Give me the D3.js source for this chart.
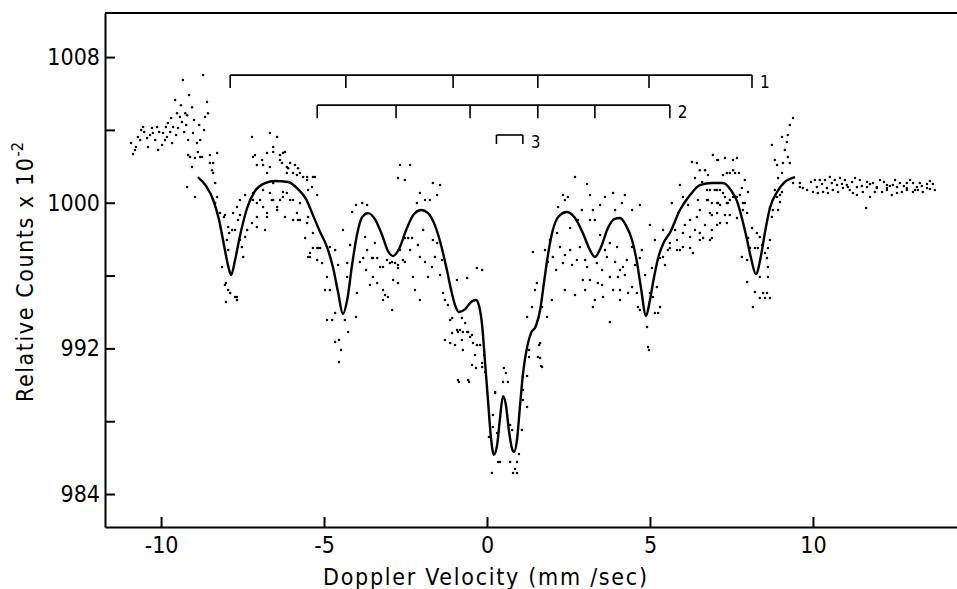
<!DOCTYPE html>
<html>
<head>
<meta charset="utf-8">
<script src="https://cdn.jsdelivr.net/npm/d3@7"></script>
<style>
  body { margin: 0; background: #fff; }
  svg { display: block; }
  .tick text, .lbl { font-family: "DejaVu Sans Condensed", "DejaVu Sans", sans-serif; fill: #000; }
</style>
</head>
<body>
<div class="container"></div>
<script>
// tick values
let xTicks = [-10, -5, 0, 5, 10];
let yTicks = [984, 988, 992, 996, 1000, 1004, 1008];
let yLabelled = [984, 992, 1000, 1008];

// stick diagrams (mm/sec)
let sticks1 = [-7.88, -4.33, -1.04, 1.56, 4.97, 8.13];
let sticks2 = [-5.21, -2.79, -0.52, 1.56, 3.31, 5.61];
let sticks3 = [0.29, 1.10];
let stickLevels = [1007.01, 1005.36, 1003.72];

// fitted curve
let fitV = [-8.87,-8.62,-8.40,-8.22,-8.07,-7.94,-7.85,-7.73,-7.58,-7.36,-7.12,-6.81,-6.50,-6.10,-5.80,-5.55,-5.34,-5.12,-4.91,-4.72,-4.57,-4.42,-4.29,-4.14,-3.99,-3.83,-3.65,-3.44,-3.22,-3.04,-2.88,-2.70,-2.48,-2.24,-2.02,-1.81,-1.60,-1.41,-1.23,-1.10,-0.98,-0.86,-0.67,-0.49,-0.34,-0.25,-0.15,-0.06,0.03,0.12,0.21,0.31,0.40,0.49,0.58,0.67,0.77,0.83,0.92,1.01,1.10,1.23,1.35,1.50,1.63,1.75,1.87,2.02,2.21,2.45,2.70,2.94,3.16,3.31,3.50,3.71,3.90,4.08,4.26,4.45,4.60,4.72,4.88,5.00,5.12,5.25,5.43,5.61,5.92,6.23,6.53,6.90,7.24,7.48,7.67,7.82,7.98,8.10,8.25,8.41,8.53,8.68,8.90,9.14,9.45];
let fitC = [1001.41,1000.92,1000.15,999.05,997.68,996.52,996.03,996.85,998.17,999.71,1000.64,1001.08,1001.19,1001.14,1000.75,1000.20,999.32,998.39,997.57,996.41,995.09,993.89,994.66,996.58,998.23,999.21,999.43,999.10,998.23,997.35,997.07,997.46,998.50,999.38,999.60,999.43,998.77,997.68,996.30,995.20,994.38,994.00,994.16,994.55,994.66,994.38,993.28,991.25,989.16,987.13,986.15,986.69,988.18,989.38,988.89,987.52,986.48,986.31,986.97,988.78,990.54,992.07,992.84,993.23,994.11,995.64,997.13,998.50,999.27,999.49,999.16,998.34,997.40,997.02,997.57,998.61,999.10,999.16,998.77,997.95,996.74,995.37,993.78,994.66,995.86,996.96,997.84,998.34,999.60,1000.42,1000.97,1001.08,1001.08,1000.70,1000.09,999.16,997.95,996.96,996.08,997.13,998.39,999.71,1000.59,1001.14,1001.41];

// measured points [velocity, counts]
let dotsWing = [[-10.92,1003.28],[-10.86,1002.67],[-10.77,1003.06],[-10.71,1003.61],[-10.64,1003.44],[-10.55,1004.16],[-10.52,1003.88],[-10.43,1003.55],[-10.40,1003.06],[-10.28,1004.10],[-10.25,1003.83],[-10.18,1003.44],[-10.12,1004.16],[-10.06,1003.88],[-9.97,1003.17],[-9.94,1003.83],[-9.85,1004.16],[-9.82,1003.61],[-9.79,1004.38],[-9.72,1003.88],[-9.66,1003.28],[-9.63,1004.16],[-9.57,1005.64],[-9.51,1004.92],[-9.48,1004.10],[-9.42,1004.71],[-9.36,1004.43],[-9.33,1006.74],[-9.29,1003.88],[-9.20,1004.81],[-9.17,1003.44],[-9.14,1005.91],[-9.11,1002.51],[-9.05,1001.96],[-9.02,1003.83],[-8.96,1000.31],[-8.90,1003.28],[-8.80,1003.44],[-8.74,1002.51],[-8.71,1007.01],[-8.65,1004.71],[-8.59,1005.53],[-8.56,1004.92],[-8.50,1002.18],[-8.40,1001.63],[-8.34,1001.08],[-9.20,1000.86],[-8.87,1002.78],[-9.05,1005.25],[-9.26,1004.92],[-10.80,1002.89],[-10.61,1003.99],[-10.34,1003.72],[-10.09,1002.89],[-9.88,1003.44],[-9.69,1004.65],[-9.54,1003.72],[-9.39,1005.36],[-9.23,1004.27],[-8.99,1004.54],[-8.83,1004.27],[-8.68,1003.99],
  [-9.17,1002.62],[-8.96,1002.45],[-8.80,1002.51],[-8.50,1002.62],[-8.40,1002.18],[-8.44,1001.79],[-8.28,1002.73]];

let dotsLeft = [[-8.28,1000.31],[-8.19,999.43],[-8.07,999.21],[-7.94,998.66],[-7.91,998.34],[-7.79,999.43],[-7.73,998.50],[-7.67,999.76],[-7.64,999.05],[-7.58,1000.15],[-7.52,997.57],[-7.42,998.12],[-8.13,996.47],[-8.01,995.59],[-7.88,995.04],[-7.73,994.82],[-7.48,997.02],[-7.27,1000.15],[-7.18,1000.53],[-7.06,999.98],[-6.96,1000.15],[-6.81,998.50],[-6.75,999.43],[-6.60,1000.15],[-6.44,999.76],[-6.26,1000.31],[-6.04,1000.15],[-5.83,999.43],[-5.74,999.05],[-5.52,998.88],[-5.34,998.34],[-5.43,997.24],[-5.21,996.85],[-7.21,1003.61],[-7.18,1002.51],[-7.06,1002.07],[-6.90,1002.34],[-6.75,1002.73],[-6.66,1003.83],[-6.56,1003.06],[-6.44,1003.61],[-6.35,1002.34],[-6.26,1002.73],[-6.14,1001.96],[-6.04,1002.18],[-5.95,1001.63],[-5.80,1001.90],[-5.64,1001.41],[-5.52,1001.25],[-5.37,1000.86],[-5.28,1001.41],[-6.75,1001.63],[-6.56,1001.08],[-6.26,1000.59],[-7.67,994.82],[-8.01,994.55],[-7.94,995.20],
  [-7.12,1002.62],[-6.87,1002.07],[-6.56,1002.78],[-6.35,1002.62],[-6.20,1002.78],[-6.66,1001.96],[-6.29,1002.18],[-6.10,1001.90],[-5.89,1002.07],[-6.14,1001.63],[-5.74,1001.63],[-5.52,1001.41],[-5.34,1001.41],[-5.21,1000.42],[-5.49,1000.70],[-5.83,1001.52],
  [-7.42,1000.42],[-7.18,1000.15],[-6.87,1000.70],[-6.66,1000.53],[-6.56,1000.15],[-6.35,1000.15],[-6.14,1000.53],[-5.95,1000.15],[-5.74,999.98],[-6.87,999.76],[-6.44,999.60],[-7.06,999.21],[-6.75,999.21],[-6.20,999.21],[-5.95,999.05],[-5.80,999.05],[-5.49,999.21],[-7.21,998.88],[-7.06,998.66],
  [-8.34,999.98],[-8.28,999.43],[-8.04,999.32],[-7.98,997.95],[-7.82,998.50],[-7.58,999.32],[-8.04,995.48],[-7.67,994.66],[-7.94,997.40],[-7.58,997.95],[-7.36,998.50]];

let dotsMid = [[-5.58,998.06],[-5.43,997.02],[-5.21,997.51],[-5.12,997.51],[-5.06,996.69],[-4.91,995.92],[-4.97,995.20],[-4.82,995.20],[-4.91,993.56],[-4.75,993.56],[-4.66,993.94],[-4.66,992.35],[-4.54,992.46],[-4.54,991.25],[-4.48,991.91],[-4.57,996.58],[-4.29,995.92],[-4.36,993.56],[-4.26,992.90],[-3.99,995.04],[-4.02,993.72],[-4.14,999.49],[-3.83,999.98],[-3.68,999.87],[-3.74,998.12],[-3.80,996.96],[-3.68,997.40],[-3.53,996.96],[-3.44,997.79],[-3.37,996.96],[-3.50,995.92],[-3.37,995.59],[-3.28,996.47],[-3.19,995.20],[-3.19,994.66],[-3.04,994.82],[-2.88,995.75],[-2.91,994.11],[-3.07,996.85],[-2.98,996.69],[-2.82,996.69],[-2.73,996.41],[-2.67,997.40],[-2.58,996.85],[-2.52,998.06],[-2.42,998.06],[-2.30,998.06],[-2.27,995.92],[-2.06,997.02],[-1.96,998.50],[-1.81,995.92],[-1.69,996.47],[-1.66,997.95],[-1.60,997.02],[-1.75,1000.15],[-2.06,1000.53],[-2.15,999.98],[-2.36,1002.07],[-2.67,1002.07],[-2.73,1001.36],[-1.44,1000.97],[-1.66,1001.08],[-1.53,997.79],[-1.38,996.85],[-1.35,995.04],[-1.20,994.38],[-1.07,993.67],[-0.92,993.01],[-0.77,993.67],[-0.67,993.39],[-0.61,992.90],[-0.52,992.62],[-0.43,992.29],[-0.89,990.26],[-0.58,990.26],[-0.92,995.75],[-0.61,995.86],[-0.31,996.41],[-0.15,996.30],[-1.13,992.29],[-5.34,997.51],[-5.18,997.51],[-5.49,997.02],
  [-4.82,997.57],[-4.29,996.69],[-3.50,996.96],[-3.19,996.47],[-2.91,996.74],[-2.73,996.58],[-2.52,996.74],[-2.36,997.40],[-2.12,997.68],[-1.90,996.74],[-3.90,996.74],[-3.71,996.30],[-3.59,995.48],[-3.13,994.93],[-2.73,995.59],[-2.21,995.20],[-2.06,994.66],[-1.29,994.66],[-1.44,996.03],[-1.13,993.56],[-0.83,993.01],[-0.98,992.18],[-1.29,992.46],[-0.74,991.91],[-0.37,991.64],[-1.75,999.32],[-1.53,1000.42],[-2.52,1001.25],[-1.90,1000.15],[-4.02,999.87],[-4.42,998.50],[-4.20,997.68],[-4.66,997.40]];

let dotsCentre = [[-0.15,991.20],[0.25,989.55],[-1.07,992.84],[-0.89,992.90],[-0.74,992.90],[-0.58,992.90],[-0.77,992.46],[-0.46,992.73],[-0.31,992.18],[-0.21,992.18],[-0.46,991.09],[-0.34,990.92],[-0.15,990.98],[-0.86,990.15],[-0.55,990.15],[-0.09,991.64],[-0.06,990.70],[0.00,989.88],[0.25,989.60],[0.18,988.34],[0.06,987.13],[0.18,987.68],[0.31,987.35],[0.34,985.76],[0.40,985.76],[0.15,985.16],[0.52,990.92],[0.58,990.65],[0.49,990.15],[0.64,990.15],[0.71,987.79],[0.77,987.52],[0.92,986.97],[0.71,985.76],[0.92,985.76],[0.86,985.38],[0.80,985.16],[0.92,985.16],[0.98,986.20],[1.07,987.52],[1.10,989.16],[1.23,988.78],[1.10,990.43],[1.23,990.48],[1.10,989.71],[1.29,991.91],[1.29,991.53],[1.60,992.18],[1.63,991.47],[1.66,991.03]];

let dotsRight = [[1.41,997.29],[1.47,995.20],[1.53,995.59],[1.38,994.27],[1.23,993.72],[1.69,994.27],[1.84,993.72],[1.63,992.29],[1.56,991.53],[1.69,990.98],[1.93,997.95],[2.15,998.34],[2.18,999.76],[2.39,1000.15],[2.48,1000.31],[2.70,1001.41],[3.07,1001.03],[2.24,997.57],[2.02,997.02],[2.33,996.69],[2.55,997.40],[2.76,996.85],[2.91,999.60],[3.16,999.05],[3.31,999.05],[3.25,999.60],[3.62,1000.31],[3.87,1000.53],[3.93,999.60],[4.14,999.98],[4.45,999.60],[3.07,996.47],[2.94,995.75],[3.16,995.75],[3.37,996.69],[3.53,996.30],[3.68,997.02],[3.77,997.79],[3.99,997.57],[4.08,996.30],[4.17,996.47],[4.29,996.85],[4.45,997.57],[3.77,995.92],[4.02,995.92],[3.87,995.20],[3.53,995.48],[3.25,994.27],[3.56,994.82],[2.70,994.93],[3.77,993.45],[4.33,995.04],[4.45,995.37],[4.60,995.04],[4.63,994.27],[4.69,996.96],[4.75,997.40],[5.00,995.04],[5.09,994.82],[5.21,995.37],[5.15,993.94],[5.25,993.94],[5.31,994.27],[4.91,993.17],[4.94,992.07],[4.97,991.91],[5.40,997.02],[5.40,998.50],[5.61,997.79],[5.83,997.95],[5.67,999.98],[5.86,999.43],[5.92,1000.97],[6.01,1000.31],[6.23,999.05],[6.44,999.21],[6.53,999.60],[6.75,1000.15],[6.84,1000.70],[7.06,1000.70],[7.24,1000.53],[7.36,999.98],[7.55,1000.31],[7.76,1000.42],[7.85,999.98],[7.98,999.43],[7.06,999.98],[6.84,999.43],[7.15,998.88],[7.36,998.88],[6.01,998.34],[6.23,998.12],[6.53,997.95],[6.84,997.95],[5.92,997.40],[6.01,997.57],[5.83,997.40],[6.32,997.24],[6.23,997.51],[5.61,997.51],[5.31,996.96],[6.44,1002.18],[6.29,1002.23],[6.69,1001.79],[6.93,1002.62],[7.06,1002.34],[7.30,1002.45],[7.67,1002.45],[7.36,1001.63],[7.61,1001.63],[6.78,1001.52],
  [1.78,997.40],[1.87,996.74],[2.12,996.30],[2.39,997.13],[2.61,996.58],[2.85,997.57],[3.01,996.85],[2.55,998.61],[2.79,999.05],[3.47,998.23],[3.62,997.40],[3.93,996.74],[4.23,996.03],[4.54,996.58],[3.40,995.59],[4.08,995.20],[4.85,996.03],[5.06,996.41],[5.46,996.58],[5.55,997.40],[5.77,998.50],[6.07,998.77],[6.38,998.50],[6.69,998.77],[6.17,999.87],[6.47,1000.15],[6.90,999.32],[7.15,999.87],[7.45,1000.15],[6.38,1001.36],[6.60,1001.14],[7.24,1001.52],[7.91,1001.25],[8.01,1000.59],[2.33,1000.42],[3.16,1000.42],[3.47,999.87],[4.23,1000.42],[4.69,999.87],[5.00,998.77],[5.15,997.95],[4.08,994.66],[4.69,994.11],[3.31,994.66],[3.01,995.20],[2.39,995.20],[1.99,994.66]];

let dotsOuter = [[6.53,1001.79],[7.09,1002.34],[7.45,1001.63],[7.55,1002.34],[7.55,1001.79],[7.73,1001.63],[6.75,1000.70],[6.99,1000.70],[7.15,1000.70],[7.82,1000.81],[6.78,1000.15],[6.90,999.98],[7.09,999.98],[7.30,1000.31],[7.39,999.98],[7.67,1000.31],[7.91,999.98],[7.06,999.43],[7.30,999.32],[7.45,999.32],[7.67,999.16],[7.85,999.60],[6.53,998.34],[6.63,998.06],[6.90,998.06],[6.90,998.50],[7.06,998.77],[8.01,998.06],[8.28,998.34],[8.37,998.12],[8.44,997.68],[8.13,998.61],[7.82,997.02],[7.98,996.85],[8.07,997.51],[8.22,997.51],[8.31,997.51],[8.53,997.24],[8.62,997.51],[8.59,996.96],[8.62,996.47],[8.62,995.92],[8.37,995.92],[7.98,995.64],[8.22,995.09],[8.47,995.04],[8.59,995.04],[8.37,994.77],[8.53,994.77],[8.68,994.77],[8.16,994.27],[8.68,997.95],[8.74,999.21],[8.77,999.60],[8.93,999.60],[8.68,999.71],[8.90,1000.31],[8.99,1000.42],[9.05,1000.59],[8.99,1000.04],[8.83,1000.70],[8.93,1001.36],[9.05,1001.63],[8.90,1002.07],[9.08,1002.18],[9.29,1002.18],[8.83,1002.34],[8.74,1003.17],[9.05,1003.61],[9.23,1003.72],[9.20,1003.33],[9.14,1002.89],[9.23,1002.51],[9.39,1001.08],[9.60,1001.08],[9.39,1004.65],[9.29,1004.27]];

let dotsTail = [[10.06,1001.25],[10.21,1001.25],[10.37,1001.25],[10.52,1001.41],[10.67,1001.25],[10.83,1001.36],[10.98,1001.25],[11.20,1001.14],[11.44,1001.25],[11.66,1001.14],[11.84,1001.08],[12.06,1001.25],[12.27,1000.97],[12.45,1000.97],[12.67,1001.08],[12.88,1001.08],[13.07,1001.08],[13.28,1001.08],[13.50,1001.03],[13.68,1001.03],[10.00,1000.59],[10.15,1000.53],[10.31,1000.59],[10.46,1000.53],[10.61,1000.70],[10.77,1000.59],[10.92,1000.81],[11.07,1000.86],[11.23,1000.53],[11.35,1000.42],[11.53,1000.59],[11.75,1000.31],[11.96,1000.81],[12.12,1000.59],[12.27,1000.70],[12.42,1000.42],[12.58,1000.53],[12.73,1000.59],[12.88,1000.70],[13.07,1000.59],[13.22,1000.70],[13.37,1000.59],[13.59,1000.75],[13.74,1000.70],[10.12,1000.86],[10.43,1000.81],[10.74,1000.97],[11.04,1000.97],[11.35,1000.86],[11.66,1000.86],[11.96,1000.86],[12.27,1000.81],[12.58,1000.86],[12.88,1000.81],[13.19,1000.86],[13.50,1000.81],[11.63,999.71],[9.60,1000.86],[9.69,1000.81],[9.82,1000.70],[9.94,1001.14],[10.28,1001.03],[10.58,1001.08],[10.89,1001.03],[11.13,1000.70],[11.29,1001.36],[11.50,1000.92],[11.75,1001.03],[11.90,1000.59],[12.18,1001.14],[12.36,1000.92],[12.52,1001.25],[12.79,1000.92],[12.98,1001.25],[13.13,1000.70],[13.34,1000.92],[13.59,1001.19]];

let margin = {top: 13, right: 0, bottom: 62, left: 105},
  width = 957 - margin.left - margin.right,
  height = 589 - margin.top - margin.bottom;

let svg = d3.select(".container").append("svg")
    .attr("width", 957)
    .attr("height", 589)
  .append("g")
    .attr("transform", "translate(" + margin.left + "," + margin.top + ")");

let x = d3.scaleLinear().domain([-11.72, 14.42]).range([0, width]);
let y = d3.scaleLinear().domain([982.19, 1010.42]).range([height, 0]);

// frame: top rule
svg.append("line")
  .attr("x1", 0).attr("x2", width)
  .attr("y1", 0).attr("y2", 0)
  .style("stroke", "#000").style("stroke-width", 2);

let yAxis = svg.append("g")
  .call(d3.axisLeft(y).tickValues(yTicks).tickSize(-10).tickSizeOuter(0).tickPadding(5)
    .tickFormat(d => yLabelled.includes(d) ? d : ""));
let xAxis = svg.append("g")
  .attr("transform", "translate(0," + height + ")")
  .call(d3.axisBottom(x).tickValues(xTicks).tickSize(-10).tickSizeOuter(0).tickPadding(10)
    .tickFormat(d => d < 0 ? "-" + Math.abs(d) : d));

[yAxis, xAxis].forEach(a => {
  a.select(".domain").style("stroke", "#000").style("stroke-width", 2);
  a.selectAll(".tick line").style("stroke", "#000").style("stroke-width", 2);
  a.selectAll(".tick text").style("font-size", "23px");
});

// points
let allDots = [].concat(dotsWing, dotsLeft, dotsMid, dotsCentre, dotsRight, dotsOuter, dotsTail);
svg.append("g")
  .selectAll("circle")
  .data(allDots)
  .enter().append("circle")
    .attr("cx", d => x(d[0]))
    .attr("cy", d => y(d[1]))
    .attr("r", 1.25)
    .style("fill", "#000");

// fitted curve
let fit = fitV.map((v, i) => [v, fitC[i]]);
svg.append("path")
  .datum(fit)
  .attr("d", d3.line().x(d => x(d[0])).y(d => y(d[1])).curve(d3.curveMonotoneX))
  .style("fill", "none")
  .style("stroke", "#000")
  .style("stroke-width", 2.4);

// stick diagrams
let drawSticks = (vals, level, len, label) => {
  let g = svg.append("g");
  let y0 = y(level);
  g.append("line")
    .attr("x1", x(vals[0])).attr("x2", x(vals[vals.length - 1]))
    .attr("y1", y0).attr("y2", y0)
    .style("stroke", "#000").style("stroke-width", 1.6);
  g.selectAll(".st").data(vals).enter().append("line")
    .attr("x1", d => x(d)).attr("x2", d => x(d))
    .attr("y1", y0).attr("y2", y0 + len)
    .style("stroke", "#000").style("stroke-width", 1.6);
  g.append("text")
    .attr("class", "lbl")
    .attr("x", x(vals[vals.length - 1]) + 8)
    .attr("y", y0 + 13)
    .style("font-size", "17px")
    .text(label);
};
drawSticks(sticks1, stickLevels[0], 13, "1");
drawSticks(sticks2, stickLevels[1], 13, "2");
drawSticks(sticks3, stickLevels[2], 9, "3");

// axis titles
svg.append("text")
  .attr("class", "lbl")
  .attr("x", 218).attr("y", height + 58)
  .attr("textLength", 324).attr("lengthAdjust", "spacing")
  .style("font-size", "23px")
  .text("Doppler Velocity (mm /sec)");

let yt = svg.append("text")
  .attr("class", "lbl")
  .attr("transform", "translate(" + (33 - margin.left) + "," + (402 - margin.top) + ") rotate(-90)")
  .style("font-size", "23px");
yt.append("tspan").attr("textLength", 244).attr("lengthAdjust", "spacing").text("Relative Counts x 10");
yt.append("tspan").attr("dy", -10).style("font-size", "16px").text("-2");
</script>
</body>
</html>
